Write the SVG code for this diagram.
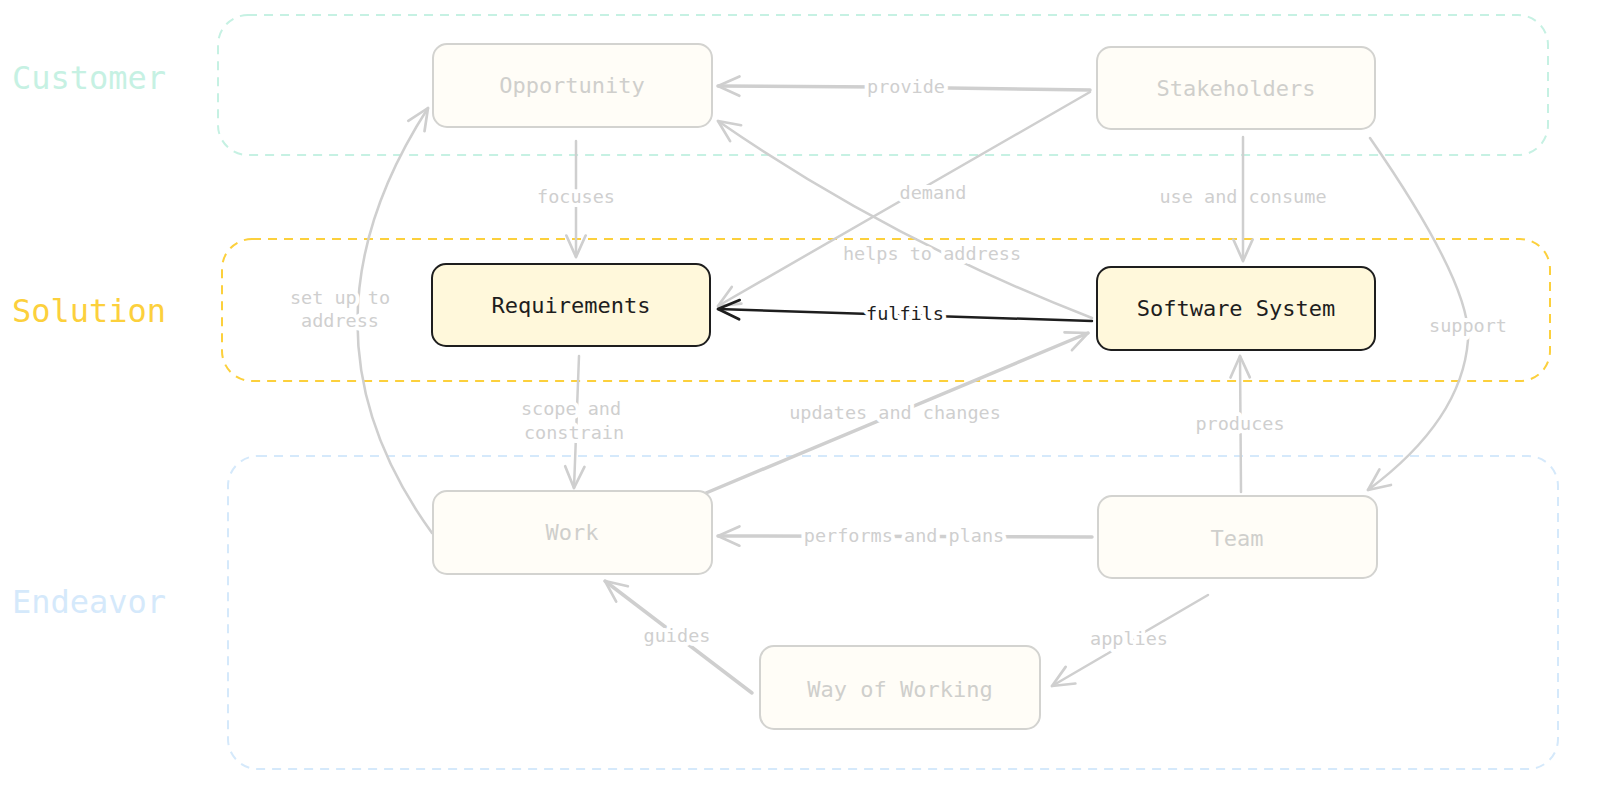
<svg xmlns="http://www.w3.org/2000/svg" width="1600" height="798" viewBox="0 0 1600 798">
<defs>
<style>
.grp{fill:none;stroke-width:2;stroke-dasharray:9 7}
.glabel{font-family:"DejaVu Sans Mono","Liberation Mono",monospace;font-size:32px}
.node rect{stroke-width:2}
.faded rect{fill:#fffdf7;stroke:#d3d3d0}
.faded text{fill:#cfcfcc}
.hi rect{fill:#fff8db;stroke:#1e1e1e}
.hi text{fill:#1e1e1e}
.ntext{font-family:"DejaVu Sans Mono","Liberation Mono",monospace;font-size:22px;text-anchor:middle}
.edge{fill:none;stroke:#cfcfcf;stroke-width:2.5;stroke-linecap:round;marker-end:url(#ag)}
.edge.thick{stroke-width:3.5}
.edge.dark{stroke:#1e1e1e;marker-end:url(#ab)}
.elabel{font-family:"DejaVu Sans Mono","Liberation Mono",monospace;font-size:18.5px;fill:#cfcfcf;text-anchor:middle;stroke:#ffffff;stroke-width:8;paint-order:stroke;stroke-linejoin:round}
.elabel.dark{fill:#1e1e1e}
</style>
<marker id="ag" markerUnits="userSpaceOnUse" markerWidth="30" markerHeight="30" refX="0" refY="0" viewBox="-24 -12 28 24" orient="auto">
<path d="M -20 -9 L 0 0 L -20 9" fill="none" stroke="#cfcfcf" stroke-width="2.5" stroke-linecap="round" stroke-linejoin="round"/>
</marker>
<marker id="ab" markerUnits="userSpaceOnUse" markerWidth="30" markerHeight="30" refX="0" refY="0" viewBox="-24 -12 28 24" orient="auto">
<path d="M -20 -9 L 0 0 L -20 9" fill="none" stroke="#1e1e1e" stroke-width="2.5" stroke-linecap="round" stroke-linejoin="round"/>
</marker>
</defs>
<rect width="1600" height="798" fill="#ffffff"/>

<g id="groups">
<g id="group-customer">
<rect class="grp" x="218" y="15" width="1330" height="140" rx="30" stroke="#c6f1e3"/>
<text class="glabel" x="12" y="89" fill="#c6f1e3">Customer</text>
</g>
<g id="group-solution">
<rect class="grp" x="222" y="239" width="1328" height="142" rx="30" stroke="#fcd03c"/>
<text class="glabel" x="12" y="322" fill="#fcd03c">Solution</text>
</g>
<g id="group-endeavor">
<rect class="grp" x="228" y="456" width="1330" height="313" rx="30" stroke="#d5e9fb"/>
<text class="glabel" x="12" y="613" fill="#d5e9fb">Endeavor</text>
</g>
</g>

<g id="connectors">
<g id="e-provide"><path class="edge thick" d="M 1090 90 L 880 87 L 718 86"/><text class="elabel" x="906" y="93">provide</text></g>
<g id="e-demand"><path class="edge" d="M 1090 92 L 718 306"/><text class="elabel" x="933" y="199">demand</text></g>
<g id="e-helps"><path class="edge" d="M 1092 318 Q 890 240 718 121"/><text class="elabel" x="932" y="260">helps to address</text></g>
<g id="e-fulfils"><path class="edge dark" d="M 1092 321 L 718 309"/><text class="elabel dark" x="905" y="320">fulfils</text></g>
<g id="e-focuses"><path class="edge" d="M 576 141 L 576 257"/><text class="elabel" x="576" y="203">focuses</text></g>
<g id="e-use"><path class="edge" d="M 1243 137 L 1243 261"/><text class="elabel" x="1243" y="203">use and consume</text></g>
<g id="e-support"><path class="edge" d="M 1370 138 Q 1472 285 1468 340 Q 1462 420 1368 490"/><text class="elabel" x="1468" y="332">support</text></g>
<g id="e-setup"><path class="edge" d="M 432 533 Q 285 330 428 108"/><text class="elabel" x="340" y="304">set up to</text><text class="elabel" x="340" y="327">address</text></g>
<g id="e-scope"><path class="edge" d="M 579 356 L 574 488"/><text class="elabel" x="571" y="415">scope and</text><text class="elabel" x="574" y="439">constrain</text></g>
<g id="e-updates"><path class="edge thick" d="M 706 493 L 1088 333"/><text class="elabel" x="895" y="419">updates and changes</text></g>
<g id="e-produces"><path class="edge" d="M 1241 492 L 1240 356"/><text class="elabel" x="1240" y="430">produces</text></g>
<g id="e-performs"><path class="edge thick" d="M 1092 537 L 718 536"/><text class="elabel" x="904" y="542">performs and plans</text></g>
<g id="e-applies"><path class="edge" d="M 1208 595 L 1052 686"/><text class="elabel" x="1129" y="645">applies</text></g>
<g id="e-guides"><path class="edge thick" d="M 752 693 L 605 581"/><text class="elabel" x="677" y="642">guides</text></g>
</g>

<g id="node-opportunity" class="node faded"><rect x="433" y="44" width="279" height="83" rx="14"/><text class="ntext" x="572" y="93">Opportunity</text></g>
<g id="node-stakeholders" class="node faded"><rect x="1097" y="47" width="278" height="82" rx="14"/><text class="ntext" x="1236" y="96">Stakeholders</text></g>
<g id="node-requirements" class="node hi"><rect x="432" y="264" width="278" height="82" rx="14"/><text class="ntext" x="571" y="313">Requirements</text></g>
<g id="node-software" class="node hi"><rect x="1097" y="267" width="278" height="83" rx="14"/><text class="ntext" x="1236" y="316">Software System</text></g>
<g id="node-work" class="node faded"><rect x="433" y="491" width="279" height="83" rx="14"/><text class="ntext" x="572" y="540">Work</text></g>
<g id="node-team" class="node faded"><rect x="1098" y="496" width="279" height="82" rx="14"/><text class="ntext" x="1237" y="546">Team</text></g>
<g id="node-way" class="node faded"><rect x="760" y="646" width="280" height="83" rx="14"/><text class="ntext" x="900" y="697">Way of Working</text></g>
</svg>
